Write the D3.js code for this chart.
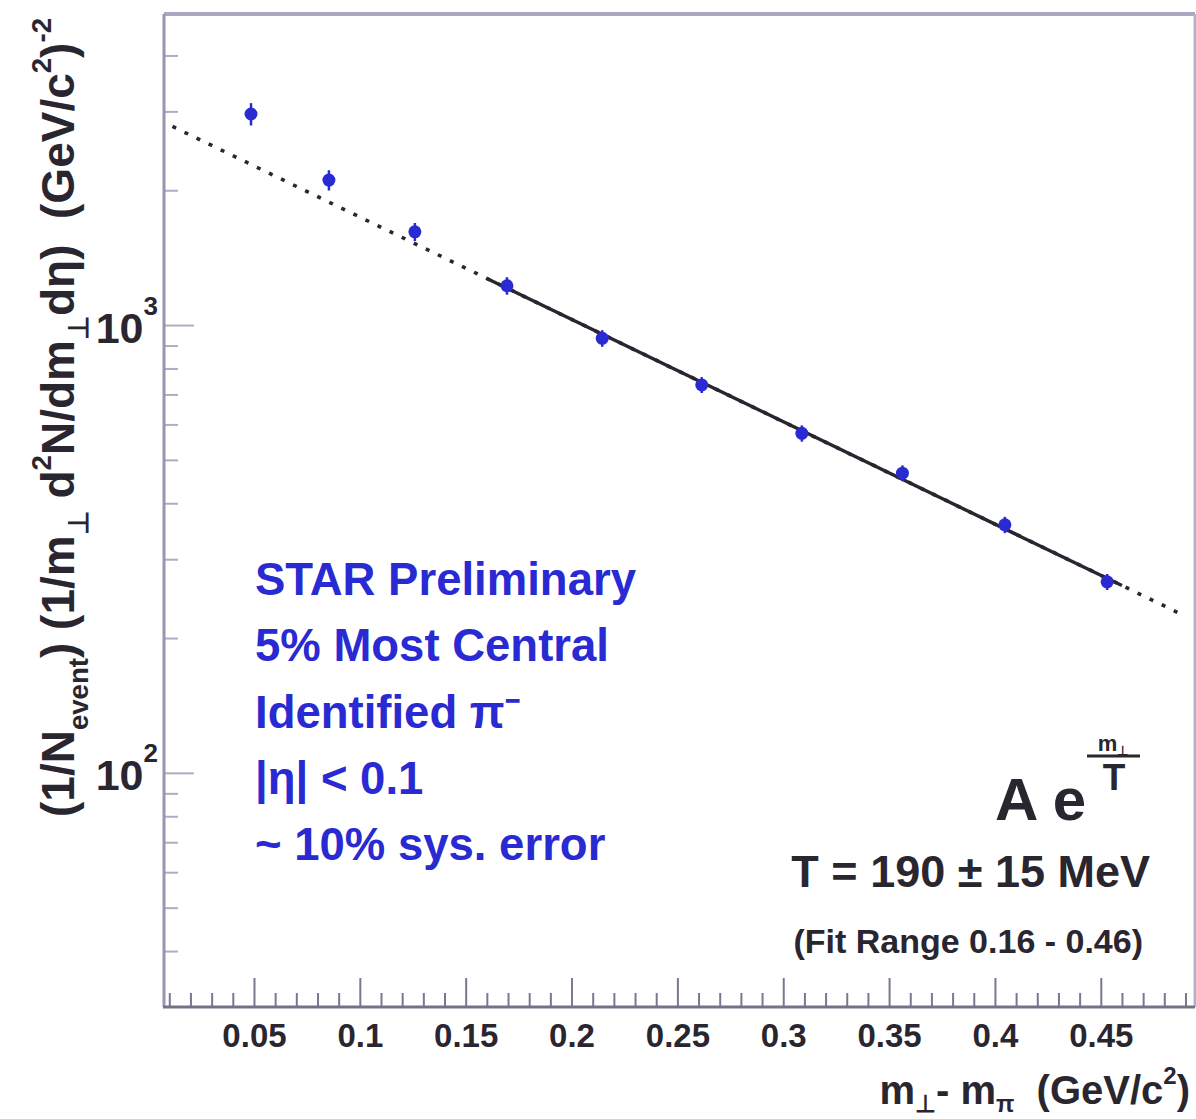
<!DOCTYPE html>
<html>
<head>
<meta charset="utf-8">
<script src="https://cdn.jsdelivr.net/npm/d3@7"></script>
<style>
  html, body { margin: 0; padding: 0; background: #fff; }
  svg { display: block; font-family: "Liberation Sans", Arial, Helvetica, sans-serif; font-weight: bold; }
  text { white-space: pre; }
</style>
</head>
<body>
<svg id="chart" width="1196" height="1119"></svg>
<script>
// data
const mtMinusM = [0.0486, 0.0854, 0.126, 0.1695, 0.2145, 0.2615, 0.3088, 0.3563, 0.4047, 0.453];
const yieldVals = [2960, 2107, 1615, 1224, 934, 735, 573, 467, 358, 267];
const yieldErr = [170, 110, 75, 55, 40, 30, 24, 19, 15, 11];

// exponential fit A*exp(-m/T)
const fitA = 2950;
const fitT = 0.19;
const fitRange = [0.16, 0.46];

const xMajorTicks = [0.05, 0.1, 0.15, 0.2, 0.25, 0.3, 0.35, 0.4, 0.45];
const xMinorTicks = [0.01, 0.02, 0.03, 0.04, 0.06, 0.07, 0.08, 0.09, 0.11, 0.12, 0.13, 0.14,
  0.16, 0.17, 0.18, 0.19, 0.21, 0.22, 0.23, 0.24, 0.26, 0.27, 0.28, 0.29, 0.31, 0.32, 0.33, 0.34,
  0.36, 0.37, 0.38, 0.39, 0.41, 0.42, 0.43, 0.44, 0.46, 0.47, 0.48, 0.49];
const yMajorTicks = [100, 1000];
const yMinorTicks = [40, 50, 60, 70, 80, 90, 200, 300, 400, 500, 600, 700, 800, 900, 2000, 3000, 4000];

const infoLines = ['STAR Preliminary', '5% Most Central', 'Identified π⁻', '|η| < 0.1', '~ 10% sys. error'];

// configs
const LEFT = 164, RIGHT = 1195, TOP = 14, BOTTOM = 1007;
const BLUE = '#2a2ad2';
const INK = '#2a2630';

const svg = d3.select('#chart');

const x = d3.scaleLinear().domain([0.0075, 0.4945]).range([LEFT, RIGHT]);
const y = d3.scaleLog().domain([30, 4950]).range([BOTTOM, TOP]);

// frame
svg.append('line').attr('x1', LEFT).attr('x2', RIGHT).attr('y1', TOP).attr('y2', TOP)
  .attr('stroke', '#aaa8c0').attr('stroke-width', 4);
svg.append('line').attr('x1', RIGHT).attr('x2', RIGHT).attr('y1', TOP).attr('y2', BOTTOM)
  .attr('stroke', '#b4b2ca').attr('stroke-width', 3);

// x axis: minor + major ticks pointing up
const xMinor = svg.append('g').attr('transform', `translate(0,${BOTTOM})`)
  .call(d3.axisBottom(x).tickValues(xMinorTicks).tickSize(-14).tickFormat(''));
const xMajor = svg.append('g').attr('transform', `translate(0,${BOTTOM})`)
  .call(d3.axisBottom(x).tickValues(xMajorTicks).tickSize(-29).tickPadding(17).tickFormat(d3.format('')));
[xMinor, xMajor].forEach(g => {
  g.select('.domain').remove();
  g.selectAll('.tick line').attr('stroke', '#7a788e').attr('stroke-width', 2);
});
xMajor.selectAll('.tick text')
  .attr('fill', INK).attr('font-size', 33).attr('font-weight', 'bold')
  .attr('font-family', '"Liberation Sans", Arial, sans-serif');

// y axis: minor + major ticks pointing right
const yMinor = svg.append('g').attr('transform', `translate(${LEFT},0)`)
  .call(d3.axisLeft(y).tickValues(yMinorTicks).tickSize(-14).tickFormat(''));
const yMajor = svg.append('g').attr('transform', `translate(${LEFT},0)`)
  .call(d3.axisLeft(y).tickValues(yMajorTicks).tickSize(-30).tickFormat(''));
[yMinor, yMajor].forEach(g => {
  g.select('.domain').remove();
  g.selectAll('.tick line').attr('stroke', '#aeacc4').attr('stroke-width', 2);
});

// y tick labels as 10^n
yMajor.selectAll('.tick').append('text')
  .attr('x', -6).attr('y', 17)
  .attr('text-anchor', 'end')
  .attr('fill', INK).attr('font-size', 43)
  .each(function(d) {
    const t = d3.select(this);
    t.append('tspan').text('10');
    t.append('tspan').attr('dy', -28).attr('font-size', 26).text(Math.round(Math.log10(d)));
  });

// axis lines
svg.append('line').attr('x1', LEFT).attr('x2', LEFT).attr('y1', TOP).attr('y2', BOTTOM)
  .attr('stroke', '#9896ae').attr('stroke-width', 3);
svg.append('line').attr('x1', LEFT - 1).attr('x2', RIGHT).attr('y1', BOTTOM).attr('y2', BOTTOM)
  .attr('stroke', '#747288').attr('stroke-width', 3);

// fit line: dotted over whole range, solid over fit range
const plotArea = svg.append('g');
svg.append('clipPath').attr('id', 'clip').append('rect')
  .attr('x', LEFT).attr('y', TOP).attr('width', RIGHT - LEFT).attr('height', BOTTOM - TOP);
plotArea.attr('clip-path', 'url(#clip)');

const fitFn = m => fitA * Math.exp(-m / fitT);
const fitLine = d3.line().x(d => x(d)).y(d => y(fitFn(d)));

plotArea.append('path')
  .attr('d', fitLine([0.0115, x.domain()[1] - 0.005]))
  .attr('fill', 'none').attr('stroke', INK).attr('stroke-width', 3.6)
  .attr('stroke-dasharray', '4,9.4');
plotArea.append('path')
  .attr('d', fitLine(fitRange))
  .attr('fill', 'none').attr('stroke', INK).attr('stroke-width', 3.4);

// data points with error bars
const pts = mtMinusM.map((m, i) => ({ m, v: yieldVals[i], e: yieldErr[i] }));
plotArea.selectAll('line.err').data(pts).enter().append('line')
  .attr('class', 'err')
  .attr('x1', d => x(d.m)).attr('x2', d => x(d.m))
  .attr('y1', d => y(d.v + d.e)).attr('y2', d => y(d.v - d.e))
  .attr('stroke', BLUE).attr('stroke-width', 2.5);
plotArea.selectAll('circle.pt').data(pts).enter().append('circle')
  .attr('class', 'pt')
  .attr('cx', d => x(d.m)).attr('cy', d => y(d.v)).attr('r', 6.5)
  .attr('fill', BLUE);

// info text
svg.append('g').selectAll('text').data(infoLines).enter().append('text')
  .attr('x', 255).attr('y', (d, i) => 595 + i * 66.3)
  .attr('fill', BLUE).attr('font-size', 45.5)
  .text(d => d);

// fit formula
svg.append('text').attr('x', 995).attr('y', 820).attr('fill', INK).attr('font-size', 60)
  .text('A e');
svg.append('text').attr('x', 1113).attr('y', 751).attr('text-anchor', 'middle')
  .attr('fill', INK).attr('font-size', 22)
  .call(t => {
    t.append('tspan').text('m');
    t.append('tspan').attr('font-size', 13).attr('dy', 4).text('⊥');
  });
svg.append('line').attr('x1', 1087).attr('x2', 1140).attr('y1', 756).attr('y2', 756)
  .attr('stroke', INK).attr('stroke-width', 3);
svg.append('text').attr('x', 1114).attr('y', 790).attr('text-anchor', 'middle')
  .attr('fill', INK).attr('font-size', 37).text('T');

svg.append('text').attr('x', 1150).attr('y', 887).attr('text-anchor', 'end')
  .attr('fill', INK).attr('font-size', 45).text('T = 190 ± 15 MeV');
svg.append('text').attr('x', 1143).attr('y', 953).attr('text-anchor', 'end')
  .attr('fill', INK).attr('font-size', 34).text('(Fit Range 0.16 - 0.46)');

// helper for text with sub/superscripts
function richText(sel, parts, baseSize, subShift = 0.3) {
  let shift = 0;
  parts.forEach(([str, kind]) => {
    let target = 0, size = baseSize;
    if (kind === 'sub') { target = subShift * baseSize; size = 0.6 * baseSize; }
    if (kind === 'sup') { target = -0.5 * baseSize; size = 0.6 * baseSize; }
    sel.append('tspan').attr('dy', target - shift).attr('font-size', size).text(str);
    shift = target;
  });
  if (shift !== 0) sel.append('tspan').attr('dy', -shift).text('');
}

// x axis title
svg.append('text').attr('x', 1190).attr('y', 1104).attr('text-anchor', 'end')
  .attr('fill', INK)
  .call(t => richText(t, [['m', ''], ['⊥', 'sub'], ['- m', ''], ['π', 'sub'], ['  (GeV/c', ''], ['2', 'sup'], [')', '']], 40, 0.2));

// y axis title (rotated)
svg.append('text').attr('transform', 'translate(74,18) rotate(-90)').attr('text-anchor', 'end')
  .attr('fill', INK)
  .call(t => richText(t, [
    ['(1/N', ''], ['event', 'sub'], [') (1/m', ''], ['⊥', 'sub'], [' d', ''], ['2', 'sup'],
    ['N/dm', ''], ['⊥', 'sub'], ['dη)  (GeV/c', ''], ['2', 'sup'], [')', ''], ['-2', 'sup']
  ], 46));
</script>
</body>
</html>
